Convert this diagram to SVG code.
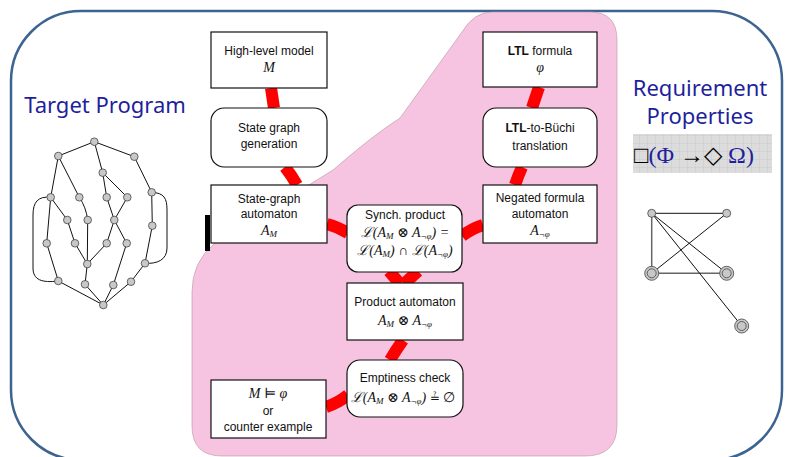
<svg xmlns="http://www.w3.org/2000/svg" width="787" height="457" viewBox="0 0 787 457">
<style>
.box{fill:#fff;stroke:#111;stroke-width:1.2}
.lbl{font-family:"Liberation Sans",Arial,sans-serif;font-size:12px;fill:#111;text-anchor:middle}
.m{font-family:"Liberation Serif","DejaVu Serif",serif;font-size:14px;font-style:italic;fill:#111;text-anchor:middle}
.s{font-size:9px}
.red{fill:none;stroke:#ff0000;stroke-width:12}
.tg line,.tg path{stroke:#111;stroke-width:1;fill:none}
.tg circle{fill:#c8c8c8;stroke:#444;stroke-width:0.8}
.big{font-family:"Noto Sans","Open Sans",sans-serif;font-size:22px;fill:#1f1f9c;text-anchor:middle}
</style>
<defs>
<pattern id="grid" width="8" height="8" patternUnits="userSpaceOnUse">
<rect width="8" height="8" fill="#dcdcdc"/>
<path d="M8 0V8M0 8H8" stroke="#c4c4c4" stroke-width="0.8"/>
</pattern>
</defs>
<rect x="0" y="0" width="787" height="457" fill="#fff"/>
<rect id="frame" x="11" y="11" width="771" height="449" rx="70" ry="70" fill="#fff" stroke="#3d6390" stroke-width="2.5"/>
<path id="pink" d="M492,12 L590,12 Q617,12 617,40 L617,425 Q617,456 585,456 L222,456 Q192,456 192,426 L192,292 Q192,262 214,244 L333,170 Q372,136 400,118 L462,32 Q474,12 492,12 Z" fill="#f6c4e0" stroke="#b8959f" stroke-width="0.6"/>
<rect x="205" y="215" width="5" height="36" fill="#000"/>

<text class="big" x="105" y="113">Target Program</text>
<text class="big" x="700" y="96">Requirement</text>
<text class="big" x="700" y="124">Properties</text>
<g id="formula">
<rect x="633" y="134" width="139" height="39" fill="url(#grid)"/>
<text x="634" y="163" font-family="Liberation Serif,serif" font-size="24" fill="#000">□<tspan fill="#1f1f9c">(Φ</tspan> →◇ <tspan fill="#1f1f9c">Ω)</tspan></text>
</g>

<g id="target-graph" class="tg">
<line x1="94.3" y1="141.7" x2="58.3" y2="156"/>
<line x1="94.3" y1="141.7" x2="134.3" y2="156.7"/>
<line x1="94.3" y1="141.7" x2="102.7" y2="172.7"/>
<line x1="58.3" y1="156" x2="50.7" y2="197.3"/>
<line x1="58.3" y1="156" x2="79.3" y2="197.3"/>
<line x1="134.3" y1="156.7" x2="151.7" y2="192.3"/>
<line x1="102.7" y1="172.7" x2="106.7" y2="197.3"/>
<line x1="102.7" y1="172.7" x2="127.3" y2="197.3"/>
<line x1="50.7" y1="197.3" x2="67.3" y2="220"/>
<line x1="50.7" y1="197.3" x2="46.7" y2="243.3"/>
<path d="M79.3,197.3 Q86,207 87.7,220"/>
<line x1="106.7" y1="197.3" x2="114.3" y2="220"/>
<line x1="127.3" y1="197.3" x2="114.3" y2="220"/>
<line x1="151.7" y1="192.3" x2="152.3" y2="225.7"/>
<line x1="67.3" y1="220" x2="75" y2="243.3"/>
<line x1="87.7" y1="220" x2="87.3" y2="264"/>
<line x1="114.3" y1="220" x2="106.7" y2="243.3"/>
<line x1="114.3" y1="220" x2="126.7" y2="243.3"/>
<line x1="75" y1="243.3" x2="87.3" y2="264"/>
<line x1="106.7" y1="243.3" x2="87.3" y2="264"/>
<line x1="152.3" y1="225.7" x2="145" y2="263.3"/>
<line x1="46.7" y1="243.3" x2="58.3" y2="281"/>
<line x1="87.3" y1="264" x2="85" y2="284.3"/>
<line x1="126.7" y1="243.3" x2="113.3" y2="285"/>
<line x1="145" y1="263.3" x2="131" y2="281.7"/>
<line x1="58.3" y1="281" x2="103.3" y2="305"/>
<line x1="85" y1="284.3" x2="103.3" y2="305"/>
<line x1="113.3" y1="285" x2="103.3" y2="305"/>
<line x1="131" y1="281.7" x2="103.3" y2="305"/>
<path d="M50.7,197.3 C38,196 33,202 33,215 L33,268 C33,280 42,283 58.3,281"/>
<path d="M151.7,192.3 C164,193 167,198 167,210 L167,248 C167,260 157,264 145,263.3"/>
<circle cx="94.3" cy="141.7" r="3.8"/>
<circle cx="58.3" cy="156" r="3.8"/>
<circle cx="134.3" cy="156.7" r="3.8"/>
<circle cx="102.7" cy="172.7" r="3.8"/>
<circle cx="50.7" cy="197.3" r="3.8"/>
<circle cx="79.3" cy="197.3" r="3.8"/>
<circle cx="106.7" cy="197.3" r="3.8"/>
<circle cx="127.3" cy="197.3" r="3.8"/>
<circle cx="151.7" cy="192.3" r="3.8"/>
<circle cx="67.3" cy="220" r="3.8"/>
<circle cx="87.7" cy="220" r="3.8"/>
<circle cx="114.3" cy="220" r="3.8"/>
<circle cx="152.3" cy="225.7" r="3.8"/>
<circle cx="46.7" cy="243.3" r="3.8"/>
<circle cx="75" cy="243.3" r="3.8"/>
<circle cx="106.7" cy="243.3" r="3.8"/>
<circle cx="126.7" cy="243.3" r="3.8"/>
<circle cx="87.3" cy="264" r="3.8"/>
<circle cx="145" cy="263.3" r="3.8"/>
<circle cx="58.3" cy="281" r="3.8"/>
<circle cx="85" cy="284.3" r="3.8"/>
<circle cx="113.3" cy="285" r="3.8"/>
<circle cx="131" cy="281.7" r="3.8"/>
<circle cx="103.3" cy="305" r="3.8"/>
</g>

<g id="property-graph" class="tg">
<line x1="651.7" y1="213.3" x2="726.7" y2="213.3"/>
<line x1="651.7" y1="213.3" x2="651.7" y2="273.3" style="stroke:#666;stroke-width:1.5"/>
<line x1="651.7" y1="273.3" x2="726.7" y2="273.3" style="stroke:#666;stroke-width:1.5"/>
<line x1="726.7" y1="213.3" x2="651.7" y2="273.3"/>
<line x1="651.7" y1="213.3" x2="726.7" y2="273.3"/>
<line x1="651.7" y1="213.3" x2="741.7" y2="326"/>
<circle cx="651.7" cy="213.3" r="4"/>
<circle cx="726.7" cy="213.3" r="4"/>
<circle cx="651.7" cy="273.3" r="7"/>
<circle cx="651.7" cy="273.3" r="4.5"/>
<circle cx="726.7" cy="273.3" r="7"/>
<circle cx="726.7" cy="273.3" r="4.5"/>
<circle cx="741.7" cy="326" r="7"/>
<circle cx="741.7" cy="326" r="4.5"/>
</g>

<g id="connectors">
<path class="red" d="M271,88 L274,108"/>
<path class="red" d="M285,167 Q292,176 297,185"/>
<path class="red" d="M327,224 Q338,227 348,233"/>
<path class="red" d="M539,87 L532,108"/>
<path class="red" d="M522,167 Q518,176 515,185"/>
<path class="red" d="M483,225 Q471,229 462,236"/>
<path class="red" d="M389,271 L400,284"/>
<path class="red" d="M418,271 L404,284"/>
<path class="red" d="M403,340 Q396,350 390,360"/>
<path class="red" d="M326,407 Q338,403 348,395"/>
</g>

<g id="high-level-model">
<rect class="box" x="211" y="32" width="116" height="56"/>
<text class="lbl" x="269" y="55">High-level model</text>
<text class="m" x="269" y="72">M</text>
</g>
<g id="state-graph-generation">
<rect class="box" x="211" y="108" width="116" height="59" rx="13"/>
<text class="lbl" x="269" y="132">State graph</text>
<text class="lbl" x="269" y="148">generation</text>
</g>
<g id="state-graph-automaton">
<rect class="box" x="211" y="185" width="116" height="58"/>
<text class="lbl" x="269" y="203">State-graph</text>
<text class="lbl" x="269" y="218">automaton</text>
<text class="m" x="269" y="235">A<tspan class="s" dy="2">M</tspan></text>
</g>
<g id="ltl-formula">
<rect class="box" x="483" y="32" width="114" height="55"/>
<text class="lbl" x="540" y="55"><tspan font-weight="bold">LTL</tspan> formula</text>
<text class="m" x="540" y="72">φ</text>
</g>
<g id="ltl-to-buchi">
<rect class="box" x="483" y="108" width="114" height="59" rx="13"/>
<text class="lbl" x="540" y="132"><tspan font-weight="bold">LTL</tspan>-to-Büchi</text>
<text class="lbl" x="540" y="150">translation</text>
</g>
<g id="negated-formula-automaton">
<rect class="box" x="483" y="185" width="114" height="58"/>
<text class="lbl" x="540" y="202">Negated formula</text>
<text class="lbl" x="540" y="218">automaton</text>
<text class="m" x="540" y="235">A<tspan class="s" dy="2">¬φ</tspan></text>
</g>
<g id="synch-product">
<rect class="box" x="347" y="205" width="115" height="67" rx="11"/>
<text class="lbl" x="405" y="219">Synch. product</text>
<text class="m" x="405" y="237">ℒ(A<tspan class="s" dy="2">M</tspan><tspan dy="-2"> ⊗ A</tspan><tspan class="s" dy="2">¬φ</tspan><tspan dy="-2">) =</tspan></text>
<text class="m" x="405" y="255">ℒ(A<tspan class="s" dy="2">M</tspan><tspan dy="-2">) ∩ ℒ(A</tspan><tspan class="s" dy="2">¬φ</tspan><tspan dy="-2">)</tspan></text>
</g>
<g id="product-automaton">
<rect class="box" x="347" y="283" width="116" height="57"/>
<text class="lbl" x="405" y="306">Product automaton</text>
<text class="m" x="405" y="325">A<tspan class="s" dy="2">M</tspan><tspan dy="-2"> ⊗ A</tspan><tspan class="s" dy="2">¬φ</tspan></text>
</g>
<g id="emptiness-check">
<rect class="box" x="347" y="360" width="116" height="57" rx="13"/>
<text class="lbl" x="405" y="382">Emptiness check</text>
<text class="m" x="403" y="402">ℒ(A<tspan class="s" dy="2">M</tspan><tspan dy="-2"> ⊗ A</tspan><tspan class="s" dy="2">¬φ</tspan><tspan dy="-2">) </tspan><tspan font-family="DejaVu Sans,sans-serif" font-style="normal" font-size="12">≟</tspan><tspan font-style="normal"> ∅</tspan></text>
</g>
<g id="result">
<rect class="box" x="211" y="380" width="115" height="58"/>
<text class="m" x="268" y="398">M ⊨ φ</text>
<text class="lbl" x="268" y="415">or</text>
<text class="lbl" x="268" y="431">counter example</text>
</g>
</svg>
